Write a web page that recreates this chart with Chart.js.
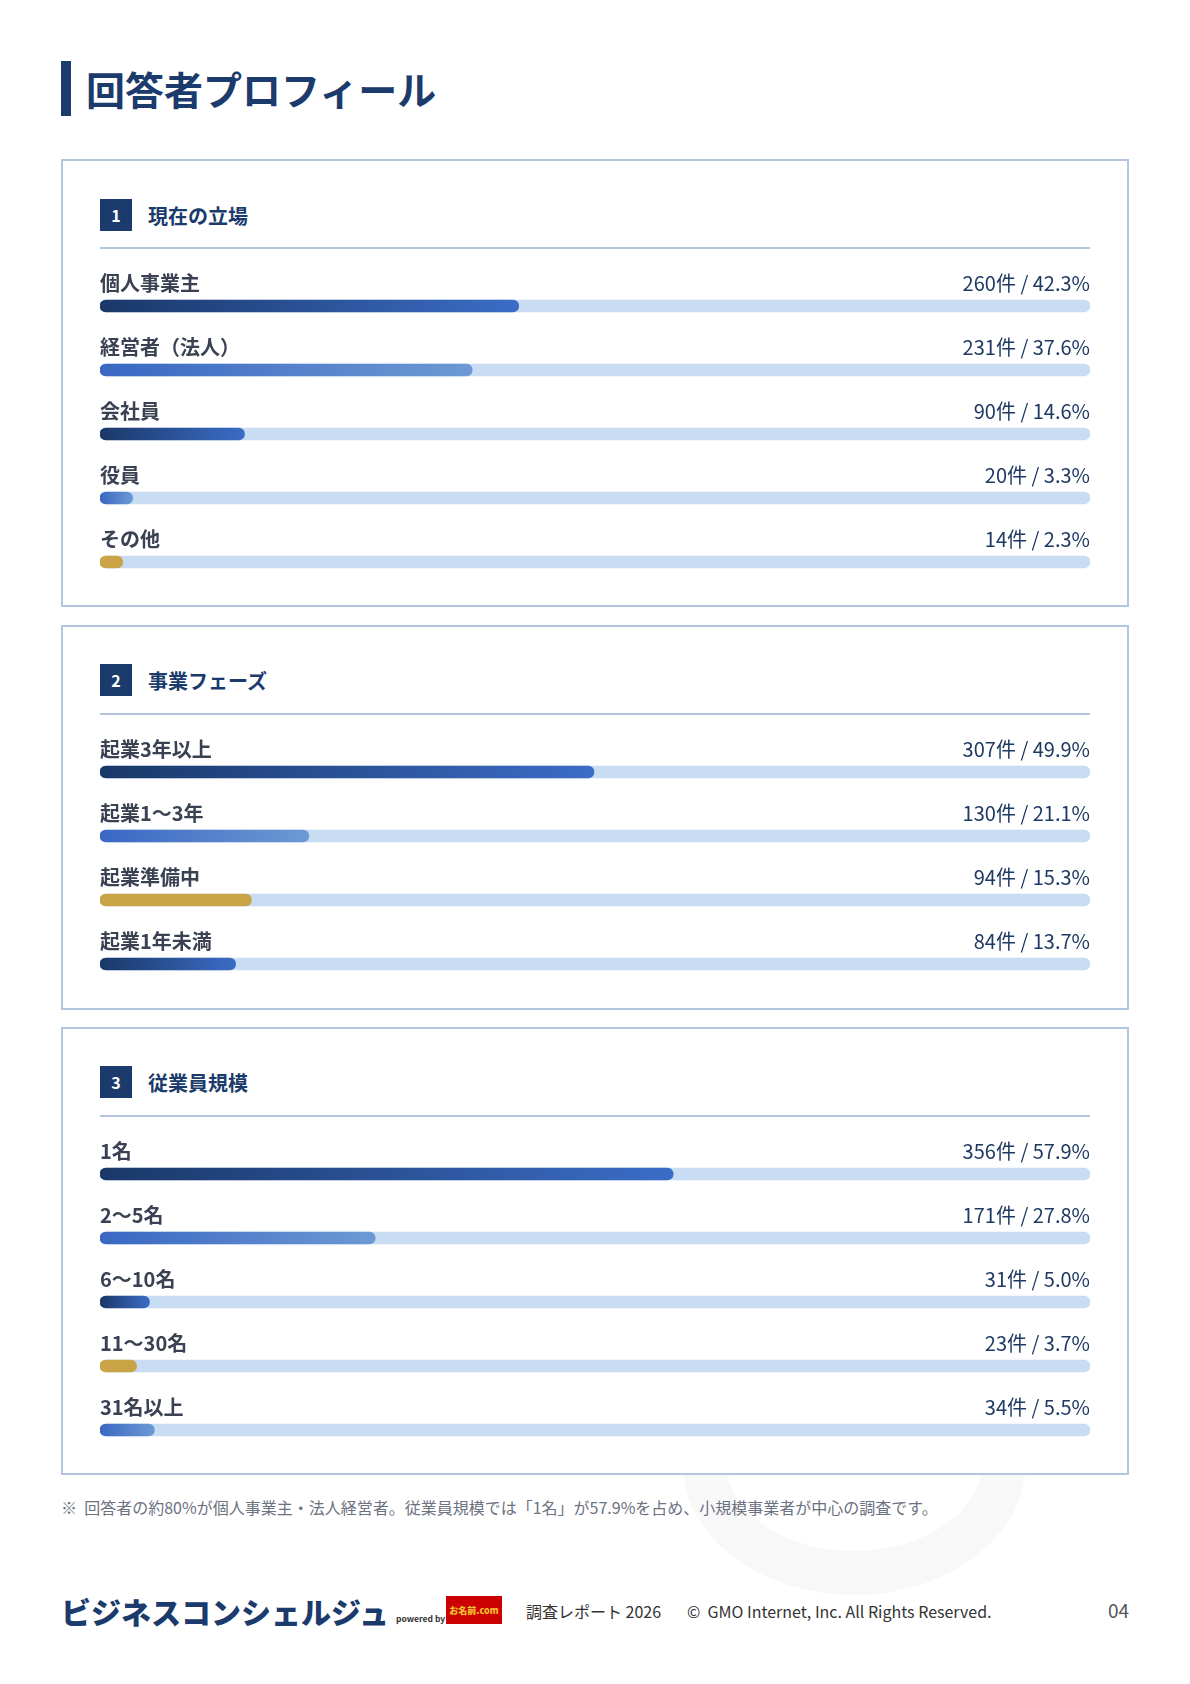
<!DOCTYPE html>
<html lang="ja">
<head>
<meta charset="utf-8">
<title>回答者プロフィール</title>
<script src="https://cdn.jsdelivr.net/npm/chart.js@4/dist/chart.umd.min.js"></script>
<style>
  body { margin: 0; background: #fff; font-family: "Noto Sans CJK JP", "Noto Sans", sans-serif; }
  .page { position: relative; width: 1190px; height: 1684px; overflow: hidden; }
  .title { position: absolute; left: 61px; top: 61px; height: 55px; border-left: 10px solid #1b3b6c;
    padding-left: 15px; font-size: 39px; font-weight: 700; color: #1b3b6c; line-height: 55px; }
  .mark { position: absolute; left: 682px; top: 1330px; width: 344px; height: 265px; box-sizing: border-box;
    border: 44px solid #f8f8f8; border-radius: 50%; }
  .card { position: absolute; left: 61px; width: 1064px; border: 2px solid #b3c6df; background: #fff; }
  .head { position: absolute; left: 37px; height: 32px; display: flex; align-items: center; }
  .badge { width: 32px; height: 32px; background: #1b3b6c; color: #fff; font-weight: 700; font-size: 16px;
    display: flex; align-items: center; justify-content: center; }
  .head span.t { margin-left: 16px; font-size: 20px; font-weight: 700; color: #1b3b6c; }
  .rule { position: absolute; left: 37px; width: 990px; height: 2px; background: #b3c6df; }
  .chart { position: absolute; left: 37px; width: 990px; }
  .note { position: absolute; left: 61px; top: 1495px; font-size: 16px; color: #6b7280; }
  .footer { position: absolute; left: 61px; top: 1594px; width: 1068px; height: 34px; }
  .logo { position: absolute; left: 0; top: 0; font-size: 30px; font-weight: 900; color: #1b3b6c; line-height: 34px; white-space: nowrap; }
  .by { position: absolute; left: 335px; top: 18px; font-size: 8.5px; color: #333; font-weight: 700; white-space: nowrap; }
  .onamae { position: absolute; left: 385px; top: 2px; width: 56px; height: 28px; background: #cc0000;
    color: #f2c230; font-size: 9px; font-weight: 900; display: flex; align-items: center; justify-content: center; white-space: nowrap; }
  .rep { position: absolute; left: 465px; top: 5px; font-size: 16px; color: #333; }
  .copy { position: absolute; left: 626px; top: 5px; font-size: 16px; color: #333; }
  .pg { position: absolute; right: 0; top: 2px; font-size: 19px; color: #555; }
</style>
</head>
<body>
<div class="page">
  <div class="mark"></div>
  <div class="title">回答者プロフィール</div>

  <div class="card" style="top:159px;height:444px">
    <div class="head" style="top:38px"><div class="badge">1</div><span class="t">現在の立場</span></div>
    <div class="rule" style="top:86px"></div>
    <div class="chart" style="top:93px;height:340px"><canvas id="c1"></canvas></div>
  </div>

  <div class="card" style="top:625px;height:381px">
    <div class="head" style="top:37px"><div class="badge">2</div><span class="t">事業フェーズ</span></div>
    <div class="rule" style="top:86px"></div>
    <div class="chart" style="top:93px;height:276px"><canvas id="c2"></canvas></div>
  </div>

  <div class="card" style="top:1027px;height:444px">
    <div class="head" style="top:37px"><div class="badge">3</div><span class="t">従業員規模</span></div>
    <div class="rule" style="top:86px"></div>
    <div class="chart" style="top:93px;height:340px"><canvas id="c3"></canvas></div>
  </div>

  <div class="note">※&nbsp; 回答者の約80%が個人事業主・法人経営者。従業員規模では「1名」が57.9%を占め、小規模事業者が中心の調査です。</div>

  <div class="footer">
    <div class="logo">ビジネスコンシェルジュ</div>
    <div class="by">powered by</div>
    <div class="onamae">お名前.com</div>
    <div class="rep">調査レポート 2026</div>
    <div class="copy">©&nbsp; GMO Internet, Inc. All Rights Reserved.</div>
    <div class="pg">04</div>
  </div>
</div>

<script>
// Section 1: 現在の立場
const roleLabels = ['個人事業主', '経営者（法人）', '会社員', '役員', 'その他'];
const roleCounts = [260, 231, 90, 20, 14];
const rolePct = [42.3, 37.6, 14.6, 3.3, 2.3];
const roleColors = ['navy', 'blue', 'navy', 'blue', 'gold'];

// Section 2: 事業フェーズ
const phaseLabels = ['起業3年以上', '起業1〜3年', '起業準備中', '起業1年未満'];
const phaseCounts = [307, 130, 94, 84];
const phasePct = [49.9, 21.1, 15.3, 13.7];
const phaseColors = ['navy', 'blue', 'gold', 'navy'];

// Section 3: 従業員規模
const sizeLabels = ['1名', '2〜5名', '6〜10名', '11〜30名', '31名以上'];
const sizeCounts = [356, 171, 31, 23, 34];
const sizePct = [57.9, 27.8, 5.0, 3.7, 5.5];
const sizeColors = ['navy', 'blue', 'navy', 'gold', 'blue'];

const palette = {
  navy: ['#1a3868', '#3b6cc6'],
  blue: ['#3a67c2', '#6b9ad4'],
  gold: ['#c8a444', '#c8a444']
};
const TRACK = '#c8dcf3';

// labels above each bar: name on the left, count / percent on the right
const rowText = {
  id: 'rowText',
  afterDatasetsDraw(chart) {
    const { ctx, scales: { x, y } } = chart;
    const meta = chart.config.options.rowMeta;
    ctx.save();
    ctx.textBaseline = 'middle';
    meta.labels.forEach((lab, i) => {
      const cy = y.getPixelForValue(i) - 23;
      ctx.font = '700 20px "Noto Sans CJK JP"';
      ctx.fillStyle = '#3a4152';
      ctx.textAlign = 'left';
      ctx.fillText(lab, x.getPixelForValue(0), cy);
      ctx.font = '400 20px "Noto Sans CJK JP"';
      ctx.fillStyle = '#1f3a62';
      ctx.textAlign = 'right';
      ctx.fillText(meta.counts[i] + '件 / ' + meta.pct[i].toFixed(1) + '%', x.getPixelForValue(100), cy);
    });
    ctx.restore();
  }
};

function makeChart(id, labels, counts, pct, colors) {
  const ctx = document.getElementById(id).getContext('2d');
  return new Chart(ctx, {
    type: 'bar',
    data: {
      labels: labels,
      datasets: [{
        data: pct,
        grouped: false,
        barThickness: 12,
        borderRadius: 6,
        borderSkipped: false,
        backgroundColor: (c) => {
          const pair = palette[colors[c.dataIndex]];
          const area = c.chart.chartArea;
          if (!area || c.dataIndex === undefined) return pair[0];
          const xs = c.chart.scales.x;
          const x0 = xs.getPixelForValue(0);
          const x1 = xs.getPixelForValue(pct[c.dataIndex]);
          const g = c.chart.ctx.createLinearGradient(x0, 0, x1, 0);
          g.addColorStop(0, pair[0]);
          g.addColorStop(1, pair[1]);
          return g;
        }
      }, {
        data: labels.map(() => 100),
        grouped: false,
        barThickness: 12,
        borderRadius: 6,
        borderSkipped: false,
        backgroundColor: TRACK
      }]
    },
    options: {
      indexAxis: 'y',
      responsive: true,
      maintainAspectRatio: false,
      animation: false,
      rowMeta: { labels: labels, counts: counts, pct: pct },
      layout: { padding: { top: 20, left: 0, right: 0, bottom: 0 } },
      plugins: { legend: { display: false }, tooltip: { enabled: false } },
      scales: {
        x: { min: 0, max: 100, display: false },
        y: { display: false }
      }
    },
    plugins: [rowText]
  });
}

makeChart('c1', roleLabels, roleCounts, rolePct, roleColors);
makeChart('c2', phaseLabels, phaseCounts, phasePct, phaseColors);
makeChart('c3', sizeLabels, sizeCounts, sizePct, sizeColors);
</script>
</body>
</html>
